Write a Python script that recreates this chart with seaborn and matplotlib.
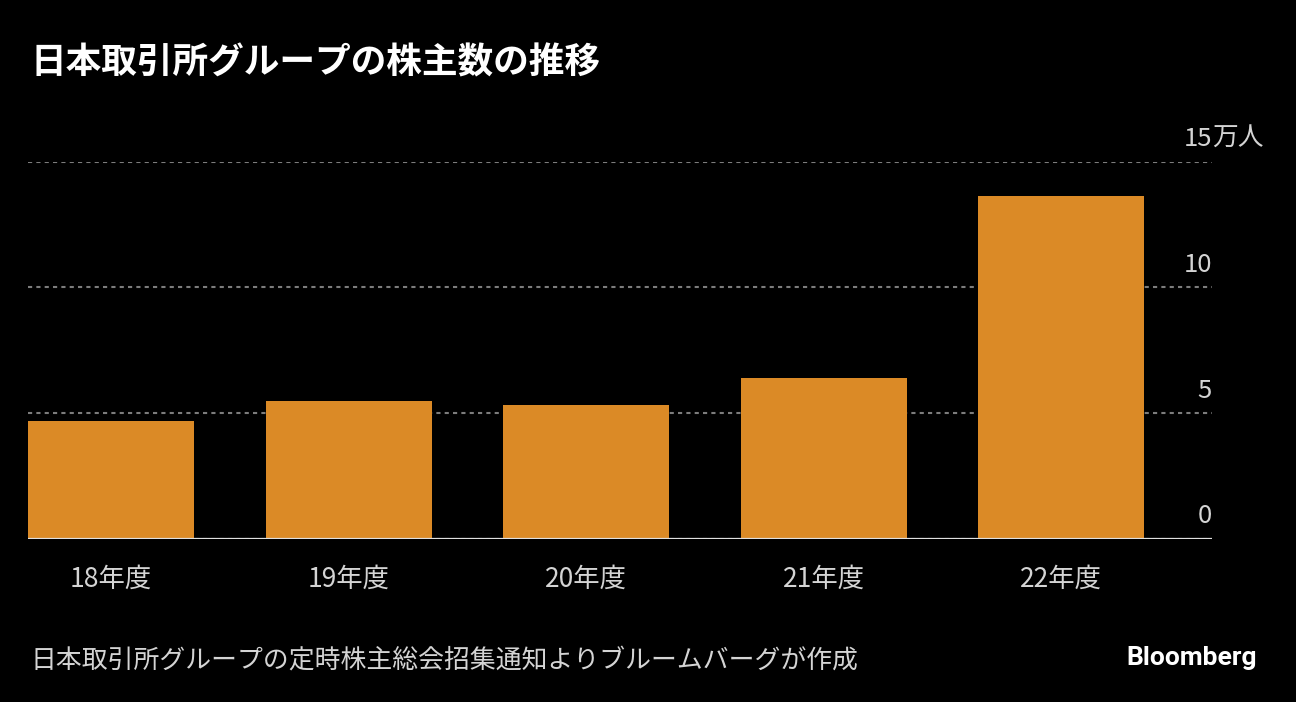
import matplotlib
matplotlib.use("Agg")
import matplotlib.pyplot as plt
import seaborn as sns
import pandas as pd

# ---- data ----
categories = ["18年度", "19年度", "20年度", "21年度", "22年度"]
shareholders = [4.70, 5.50, 5.31, 6.41, 13.63]  # 万人
y_ticks = [0, 5, 10, 15]
y_unit = "万人"

title = "日本取引所グループの株主数の推移"
source = "日本取引所グループの定時株主総会招集通知よりブルームバーグが作成"
brand = "Bloomberg"

bar_color = "#DB8A26"
bg = "#000000"

sns.set_theme(style="dark")
plt.rcParams["font.family"] = ["Noto Sans CJK JP", "DejaVu Sans"]

df = pd.DataFrame({"year": categories, "value": shareholders})

fig = plt.figure(figsize=(12.96, 7.02), dpi=100, facecolor=bg)
ax = fig.add_axes([28 / 1296, 163 / 702, (1212 - 28) / 1296, (539 - 161.7) / 702])
ax.set_facecolor(bg)

sns.barplot(data=df, x="year", y="value", color=bar_color, saturation=1,
            width=0.7, ax=ax, zorder=2, edgecolor="none", linewidth=0)

ax.set_xlim(-0.35, 4.635)
ax.set_ylim(0, 15)
ax.set_yticks(y_ticks)
ax.tick_params(axis="y", left=False, labelleft=False)
ax.tick_params(axis="x", bottom=False, labelsize=19, labelcolor="#d4d4d4", pad=13)
ax.set_xlabel("")
ax.set_ylabel("")
for s in ax.spines.values():
    s.set_visible(False)

ax.yaxis.grid(True, color="#7c7c7c", linestyle=(0, (2.0, 2.0)), linewidth=1.5, zorder=1)
ax.xaxis.grid(False)
ax.set_axisbelow(True)
ax.axhline(0, color="#e0e0e0", linewidth=1.6, zorder=3)

for v in y_ticks:
    ax.annotate(str(v), xy=(1, v), xycoords=("axes fraction", "data"),
                xytext=(0, 7), textcoords="offset points",
                ha="right", va="bottom", fontsize=18.5, color="#d4d4d4")
ax.annotate(y_unit, xy=(1, y_ticks[-1]), xycoords=("axes fraction", "data"),
            xytext=(0, 7), textcoords="offset points",
            ha="left", va="bottom", fontsize=18.5, color="#d4d4d4")

fig.text(30 / 1296, 1 - 63 / 702, title, fontsize=25.7, fontweight="bold",
         color="white", ha="left", va="center")
fig.text(30 / 1296, 1 - 660 / 702, source, fontsize=18.6, color="#d4d4d4",
         ha="left", va="center")
fig.text(1257 / 1296, 1 - 658 / 702, brand, fontsize=19, fontweight="bold",
         color="white", ha="right", va="center",
         family=["Roboto", "DejaVu Sans"])

fig.savefig("out.png", dpi=100, facecolor=bg)
